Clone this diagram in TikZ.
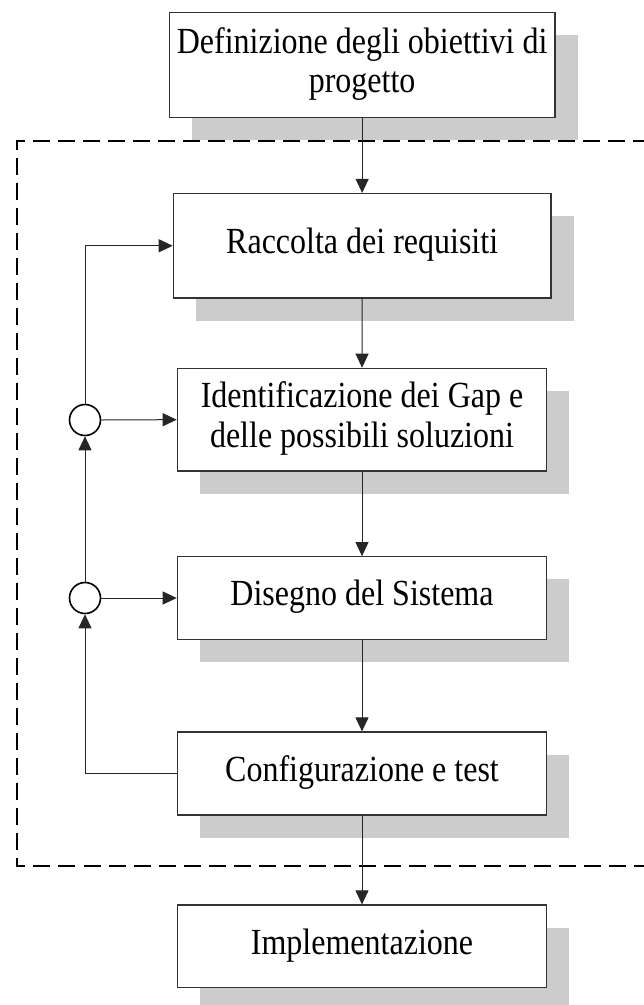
\documentclass[tikz,border=0pt]{standalone}
\usepackage{fontspec}
\usepackage{graphicx}
\setmainfont{Liberation Serif}
\usetikzlibrary{arrows.meta}

% box label: centred lines, set a little taller than wide
\newcommand{\boxlabel}[1]{\scalebox{1}[1.15]{\begin{tabular}{@{}c@{}}#1\end{tabular}}}

\begin{document}
\begin{tikzpicture}[x=1pt,y=-1pt,
  stepbox/.style={draw=black!80, line width=1.2pt, fill=white, align=center,
    font=\fontsize{32}{34}\selectfont, inner sep=0pt},
  shade/.style={fill=black!20, draw=none},
  flow/.style={draw=black!85, line width=1pt, -{Triangle[length=14pt,width=13pt]}},
  link/.style={draw=black!85, line width=1pt},
  junction/.style={circle, draw=black, line width=1.6pt, fill=white,
    minimum size=31pt, inner sep=0pt},
  frame/.style={draw=black, line width=2pt, dash pattern=on 17pt off 8pt}]
\useasboundingbox (0,0) rectangle (644,1005);

% drop shadows behind the boxes
\foreach \l/\t/\r/\b in {169.3/12.3/555/117.7, 173.3/193.5/551/298,
    177.3/368.3/546.7/471, 177.3/556.7/546.7/639.3,
    177.3/732/546.7/815, 177.3/905/546.7/987.7}
  \fill[shade] (\l+22.5,\t+22.5) rectangle (\r+22.5,\b+22.5);

% dashed frame around the iterative phase
\draw[frame] (650,141) -- (16.5,141) -- (16.5,865.5) -- (650,865.5);

% process steps
\node[stepbox, minimum width=385.7pt, minimum height=105.4pt] (obj) at (362.15,65)
  {\boxlabel{Definizione degli obiettivi di\\progetto}};
\node[stepbox, minimum width=377.7pt, minimum height=104.5pt] (req) at (362.15,245.75)
  {\boxlabel{Raccolta dei requisiti}};
\node[stepbox, minimum width=369.4pt, minimum height=102.7pt] (gap) at (362,419.65)
  {\boxlabel{Identificazione dei Gap e\\delle possibili soluzioni}};
\node[stepbox, minimum width=369.4pt, minimum height=82.6pt] (des) at (362,598)
  {\boxlabel{Disegno del Sistema}};
\node[stepbox, minimum width=369.4pt, minimum height=83pt] (cfg) at (362,773.5)
  {\boxlabel{Configurazione e test}};
\node[stepbox, minimum width=369.4pt, minimum height=82.7pt] (impl) at (362,946.35)
  {\boxlabel{Implementazione}};

% feedback junctions
\node[junction] (j1) at (85,420) {};
\node[junction] (j2) at (85,598) {};
\coordinate (up) at (85,245.75);
\coordinate (dn) at (85,773.5);

% main flow
\draw[flow] (obj) -- (req);
\draw[flow] (req) -- (gap);
\draw[flow] (gap) -- (des);
\draw[flow] (des) -- (cfg);
\draw[flow] (cfg) -- (impl);

% feedback loops
\draw[link] (cfg.west) -- (dn);
\draw[flow] (dn) -- (j2.south);
\draw[flow] (j2.east) -- (des.west);
\draw[flow] (j2.north) -- (j1.south);
\draw[flow] (j1.east) -- (gap.west);
\draw[link] (j1.north) -- (up);
\draw[flow] (up) -- (req.west);
\end{tikzpicture}
\end{document}
